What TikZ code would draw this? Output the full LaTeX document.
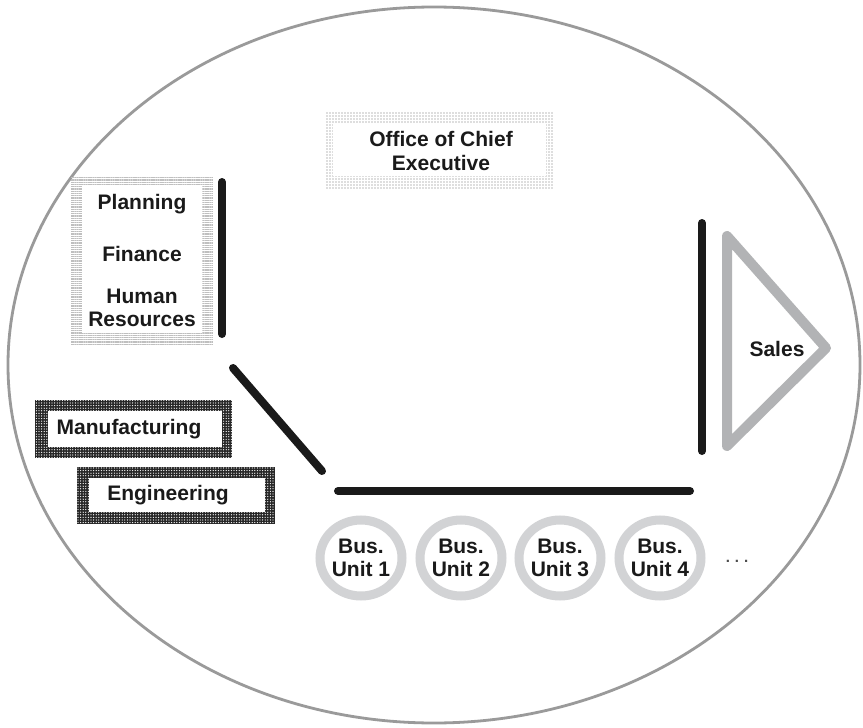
\documentclass[tikz,border=0pt]{standalone}
\usepackage{fontspec}
\setmainfont{Liberation Sans}
\usetikzlibrary{patterns,patterns.meta}
\definecolor{outline}{HTML}{9A9A9A}
\definecolor{ringgray}{HTML}{D2D3D5}
\definecolor{salesgray}{HTML}{B2B3B5}
\definecolor{ink}{HTML}{1A1A1A}
\tikzset{
  lbl/.style={font=\bfseries\fontsize{21}{23.5}\selectfont, align=center, text=ink, inner sep=0pt},
  bar/.style={draw=ink, line width=8pt, line cap=round},
  ring/.style={draw=ringgray, line width=9pt},
  darkframe/.style={fill=black!85},
  darkdots/.style={pattern={Dots[distance=2.6pt,radius=0.65pt]}, pattern color=white},
  whitebox/.style={fill=white},
}
\begin{document}
\begin{tikzpicture}[x=1pt,y=-1pt]
\useasboundingbox (0,0) rectangle (863,728);
\fill[white] (0,0) rectangle (863,728);
% outer ellipse
\draw[outline, line width=2.8pt] (434,365) ellipse [x radius=426, y radius=358];

% Office of Chief Executive
\fill[pattern={Dots[distance=3pt,radius=0.6pt]}, pattern color=black!55] (325,111) rectangle (553,188);
\fill[whitebox] (333,123) rectangle (546,176);
\node[lbl] (office) at (441,151) {Office of Chief\\Executive};

% Planning / Finance / HR
\fill[pattern={Lines[angle=0,distance=1.8pt,line width=0.6pt]}, pattern color=black!25] (71,177) rectangle (213,344);
\fill[whitebox] (82,186) rectangle (202,333);
\node[lbl] (planning) at (142,204) {Planning};
\node[lbl] (finance) at (142,254) {Finance};
\node[lbl] (hr) at (142,308) {Human\\Resources};

% Manufacturing
\fill[darkframe] (35,400) rectangle (232,458);
\fill[darkdots] (35,400) rectangle (232,458);
\fill[whitebox] (48,411) rectangle (222,447);
\node[lbl] (manu) at (129,429) {Manufacturing};

% Engineering
\fill[darkframe] (77,467) rectangle (275,524);
\fill[darkdots] (77,467) rectangle (275,524);
\fill[whitebox] (89,478) rectangle (265,512);
\node[lbl] (eng) at (168,495) {Engineering};

% bars
\coordinate (b1a) at (222,182);
\coordinate (b1b) at (222,334);
\coordinate (b2a) at (233,368);
\coordinate (b2b) at (322,471);
\coordinate (b3a) at (338,491);
\coordinate (b3b) at (690,491);
\coordinate (b4a) at (702,223);
\coordinate (b4b) at (702,451);
\draw[bar] (b1a) -- (b1b);
\draw[bar] (b2a) -- (b2b);
\draw[bar] (b3a) -- (b3b);
\draw[bar] (b4a) -- (b4b);

% Sales triangle
\draw[salesgray, line width=10pt, line join=round] (727,236) -- (826,348) -- (727,446) -- cycle;
\node[lbl] (sales) at (777,349) {Sales};

% Business units
\foreach \x/\n in {361/1,461/2,560/3,660/4}{
  \draw[ring] (\x,558) ellipse [x radius=41, y radius=38];
  \node[lbl] (bu\n) at (\x,558) {Bus.\\Unit \n};
}
\node[lbl, font=\bfseries\fontsize{15}{18}\selectfont, text=black!70] (dots) at (737,561) {.\,\,.\,\,.};
\end{tikzpicture}
\end{document}
